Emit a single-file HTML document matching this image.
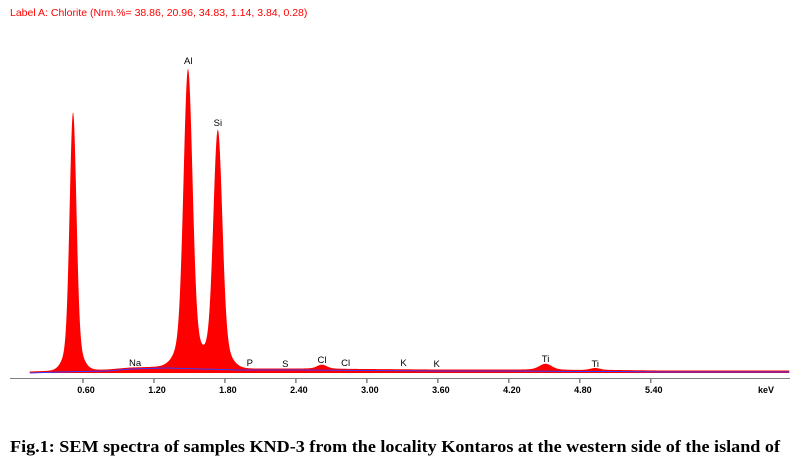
<!DOCTYPE html>
<html><head><meta charset="utf-8"><style>
html,body{margin:0;padding:0;background:#fff;}
svg{display:block;}
</style></head><body>
<svg id="c" width="790" height="462" viewBox="0 0 790 462">
<text x="10" y="16" font-family="Liberation Sans, sans-serif" font-size="10.5" fill="#ff0000">Label A: Chlorite (Nrm.%= 38.86, 20.96, 34.83, 1.14, 3.84, 0.28)</text>
<g id="spec"></g>
<g id="axis"></g>
<g id="labels"></g>
<text x="10" y="452" textLength="770" lengthAdjust="spacingAndGlyphs" font-family="Liberation Serif, serif" font-size="17" font-weight="bold" fill="#000">Fig.1: SEM spectra of samples KND-3 from the locality Kontaros at the western side of the island of</text>
</svg>
<script>
// data
const peakEnergies = [0.516, 1.488, 1.740, 2.62, 4.51, 4.93];
const peakHeights  = [258, 298, 238, 4, 6, 2];
const peakWidths   = [0.028, 0.037, 0.037, 0.04, 0.05, 0.04];
const bgEnergies = [0.15, 0.4, 0.8, 1.0, 1.3, 1.6, 1.9, 2.4, 3.0, 3.6, 4.2, 4.8, 5.1, 5.5, 6.6];
const bgHeights  = [0, 1, 2, 4, 5, 4, 3, 3, 2.5, 2, 2, 1.5, 1.5, 1, 1];
const tickValues = [0.6, 1.2, 1.8, 2.4, 3.0, 3.6, 4.2, 4.8, 5.4];
const tickLabels = ["0.60","1.20","1.80","2.40","3.00","3.60","4.20","4.80","5.40"];
const elementNames = ["Al","Si","Na","P","S","Cl","Cl","K","K","Ti","Ti"];
const elementEnergies = [1.49, 1.74, 1.04, 2.01, 2.31, 2.62, 2.82, 3.31, 3.59, 4.51, 4.93];
const elementYs = [64, 126, 366, 366, 367, 363, 366, 366, 367, 362, 367];

const NS="http://www.w3.org/2000/svg";
const x0=12, pxPerKeV=118.3, baseY=373;
const X=e=>x0+e*pxPerKeV;
const Y=h=>baseY-h;
function bg(e){
  if(e<=bgEnergies[0])return bgHeights[0];
  for(let i=1;i<bgEnergies.length;i++){
    if(e<=bgEnergies[i]){const t=(e-bgEnergies[i-1])/(bgEnergies[i]-bgEnergies[i-1]);return bgHeights[i-1]+t*(bgHeights[i]-bgHeights[i-1]);}
  }
  return bgHeights[bgHeights.length-1];
}
function counts(e){
  let v=bg(e);
  for(let i=0;i<peakEnergies.length;i++){
    const d=(e-peakEnergies[i])/peakWidths[i];
    const d2=d/2.3;
    v+=peakHeights[i]*(0.88*Math.exp(-0.5*d*d)+0.12*Math.exp(-0.5*d2*d2));
  }
  return v;
}
const spec=document.getElementById('spec');
let pts=[X(0.15)+','+baseY];
for(let e=0.15;e<=6.57;e+=0.004){pts.push(X(e).toFixed(2)+','+Y(counts(e)+1.5).toFixed(2));}
pts.push(X(6.57)+','+baseY);
const poly=document.createElementNS(NS,'polygon');
poly.setAttribute('points',pts.join(' '));
poly.setAttribute('fill','#ff0000');


spec.appendChild(poly);
let bpts=[];
for(let e=0.15;e<=6.57;e+=0.02){bpts.push(X(e).toFixed(2)+','+Y(bg(e)).toFixed(2));}
const bl=document.createElementNS(NS,'polyline');
bl.setAttribute('points',bpts.join(' '));
bl.setAttribute('fill','none');bl.setAttribute('stroke','#3a3aff');bl.setAttribute('stroke-width','1');


spec.appendChild(bl);

const axis=document.getElementById('axis');
const al=document.createElementNS(NS,'line');
al.setAttribute('x1',10);al.setAttribute('x2',790);al.setAttribute('y1',378.5);al.setAttribute('y2',378.5);
al.setAttribute('stroke','#808080');al.setAttribute('stroke-width','1');


axis.appendChild(al);
tickValues.forEach((v,i)=>{
  const t=document.createElementNS(NS,'line');
  t.setAttribute('x1',X(v));t.setAttribute('x2',X(v));t.setAttribute('y1',379);t.setAttribute('y2',383);
  t.setAttribute('stroke','#404040');
  
  
  axis.appendChild(t);
  const tx=document.createElementNS(NS,'text');
  tx.setAttribute('x',X(v)+3);tx.setAttribute('y',393);tx.setAttribute('text-anchor','middle');
  tx.setAttribute('font-family','Liberation Sans, sans-serif');tx.setAttribute('font-size','9');tx.setAttribute('font-weight','bold');
  tx.textContent=tickLabels[i];
  
  
  axis.appendChild(tx);
});
const kev=document.createElementNS(NS,'text');
kev.setAttribute('x',766);kev.setAttribute('y',393);kev.setAttribute('text-anchor','middle');
kev.setAttribute('font-family','Liberation Sans, sans-serif');kev.setAttribute('font-size','9');kev.setAttribute('font-weight','bold');
kev.textContent='keV';


axis.appendChild(kev);

const labels=document.getElementById('labels');
elementNames.forEach((n,i)=>{
  const t=document.createElementNS(NS,'text');
  t.setAttribute('x',X(elementEnergies[i]));t.setAttribute('y',elementYs[i]);t.setAttribute('text-anchor','middle');
  t.setAttribute('font-family','Liberation Sans, sans-serif');t.setAttribute('font-size','9.5');
  t.textContent=n;
  
  
  labels.appendChild(t);
});
</script>
</body></html>
